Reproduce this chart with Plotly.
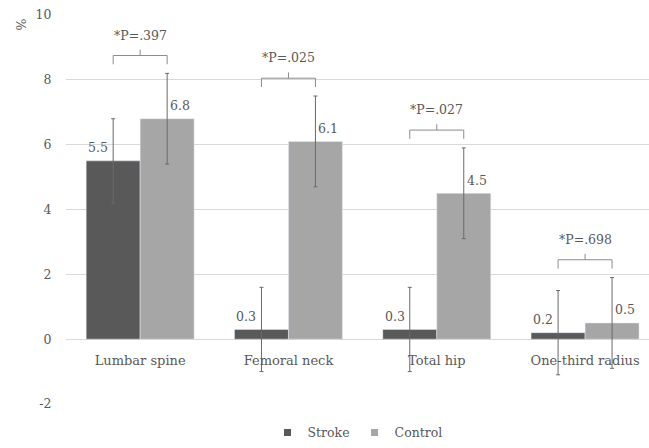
import plotly.graph_objects as go

# Bone mineral density change by site
categories = ["Lumbar spine", "Femoral neck", "Total hip", "One-third radius"]
stroke = [5.5, 0.3, 0.3, 0.2]
control = [6.8, 6.1, 4.5, 0.5]
stroke_err = [1.3, 1.3, 1.3, 1.3]
control_err = [1.4, 1.4, 1.4, 1.4]
p_labels = ["*P=.397", "*P=.025", "*P=.027", "*P=.698"]
y_ticks = [-2, 0, 2, 4, 6, 8, 10]

TEXT = "#595959"
FONT = "DejaVu Serif"
FS = 12.5
STROKE_C = "#595959"
CONTROL_C = "#a6a6a6"
BARGAP = 0.272
OFFSET = (1 - BARGAP) / 4  # centre of each bar relative to its category

fig = go.Figure()
fig.add_trace(go.Bar(
    name="Stroke", x=categories, y=stroke, marker_color=STROKE_C, showlegend=False,
    error_y=dict(type="data", array=stroke_err, color="#6a6a6a", thickness=1, width=2),
))
fig.add_trace(go.Bar(
    name="Control", x=categories, y=control, marker_color=CONTROL_C, showlegend=False,
    error_y=dict(type="data", array=control_err, color="#6a6a6a", thickness=1, width=2),
))
# small square keys for the legend
for name, color in [("Stroke", STROKE_C), ("Control", CONTROL_C)]:
    fig.add_trace(go.Scatter(name=name, x=[None], y=[None], mode="markers",
                             marker=dict(symbol="square", size=7, color=color)))

annotations = []
shapes = []
for i, cat in enumerate(categories):
    xs, xc = i - OFFSET, i + OFFSET
    # value labels beside the error bars
    annotations.append(dict(x=xs, y=stroke[i], text=f"{stroke[i]}", showarrow=False,
                            xanchor="right", yanchor="middle", xshift=-3, yshift=13,
                            font=dict(family=FONT, size=FS, color=TEXT)))
    annotations.append(dict(x=xc, y=control[i], text=f"{control[i]}", showarrow=False,
                            xanchor="left", yanchor="middle", xshift=1, yshift=13,
                            font=dict(family=FONT, size=FS, color=TEXT)))
    # significance bracket above the pair
    top = max(stroke[i] + stroke_err[i], control[i] + control_err[i])
    yb = top + 0.55
    line = dict(color="#8c8c8c", width=1)
    for seg in [(xs, yb, xc, yb), (xs, yb, xs, yb - 0.27), (xc, yb, xc, yb - 0.27),
                (i, yb, i, yb + 0.18)]:
        shapes.append(dict(type="line", xref="x", yref="y", x0=seg[0], y0=seg[1],
                           x1=seg[2], y1=seg[3], line=line))
    annotations.append(dict(x=i, y=yb + 0.63, text=p_labels[i], showarrow=False,
                            xanchor="center", yanchor="middle",
                            font=dict(family=FONT, size=FS, color=TEXT)))

annotations.append(dict(xref="paper", yref="paper", x=0, y=1, xshift=-55, yshift=-2,
                        text="%", textangle=-90, showarrow=False,
                        font=dict(family=FONT, size=FS, color=TEXT)))

fig.update_layout(
    width=649, height=448,
    margin=dict(l=66, r=0, t=15, b=41),
    paper_bgcolor="white", plot_bgcolor="white",
    barmode="group", bargap=BARGAP, bargroupgap=0,
    font=dict(family=FONT, size=FS, color=TEXT),
    showlegend=True,
    legend=dict(orientation="h", x=0.5, xanchor="center", y=-0.074, yanchor="middle",
                font=dict(family=FONT, size=FS, color=TEXT), itemwidth=30,
                tracegroupgap=0, traceorder="normal"),
    xaxis=dict(range=[-0.5, 3.431], anchor="free", position=2 / 12,
               showline=False, showgrid=False, zeroline=False,
               ticks="outside", ticklen=9, tickcolor="rgba(0,0,0,0)",
               tickfont=dict(family=FONT, size=13, color=TEXT)),
    yaxis=dict(range=[-2, 10], tickvals=y_ticks, ticktext=[str(v) for v in y_ticks],
               showgrid=True, gridcolor="#d9d9d9",
               gridwidth=1, zeroline=False, showline=False,
               ticks="outside", ticklen=11, tickcolor="rgba(0,0,0,0)",
               tickfont=dict(family=FONT, size=FS, color=TEXT)),
    annotations=annotations, shapes=shapes,
)

fig.write_html("out.html")
